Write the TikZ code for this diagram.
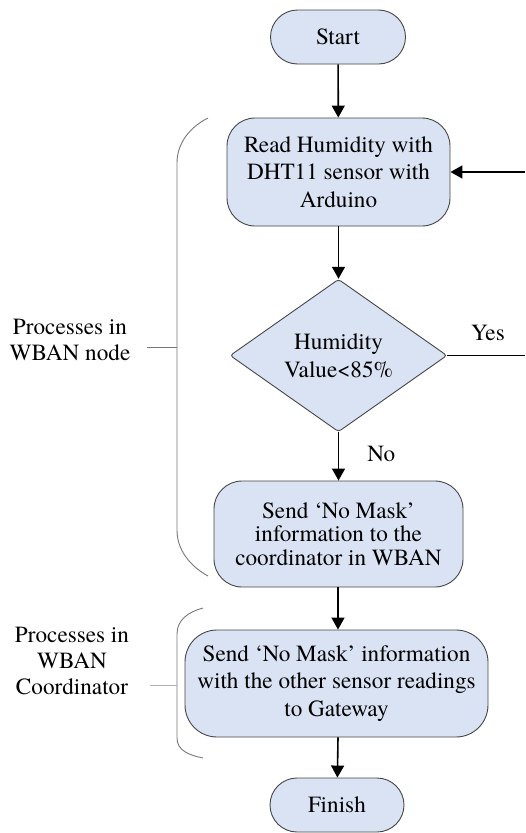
\documentclass[tikz,border=0pt]{standalone}
\usepackage{fontspec}
\setmainfont{TeX Gyre Termes}
\usetikzlibrary{shapes.geometric,arrows.meta}
\definecolor{boxfill}{RGB}{218,227,243}
\definecolor{boxline}{RGB}{70,70,70}
\definecolor{bracecol}{RGB}{120,120,120}
\definecolor{tickcol}{RGB}{175,175,175}
\tikzset{
  txt/.style={font={\fontsize{23.2}{27.5}\selectfont}, align=center, inner sep=0pt},
  procbox/.style={txt, draw=boxline, fill=boxfill, line width=0.9pt},
  decbox/.style={txt, shape=diamond, draw=boxline, fill=boxfill, line width=0.9pt, rounded corners=3pt},
  flow/.style={line width=1.6pt, -{Triangle[width=13pt,length=12pt]}},
  plainflow/.style={line width=1.6pt},
  bracestyle/.style={draw=bracecol, line width=0.9pt},
  labeltxt/.style={font={\fontsize{23.2}{26}\selectfont}, align=center, inner sep=0pt}
}
\begin{document}
\begin{tikzpicture}[x=1pt,y=-1pt]
\useasboundingbox (0,0) rectangle (525,833);

\node[procbox, minimum width=135pt, minimum height=54pt, rounded corners=27pt] (start) at (338,37) {Start};
\node[procbox, minimum width=223pt, minimum height=108pt, rounded corners=28pt] (read) at (338.5,172) {Read Humidity with\\DHT11 sensor with\\Arduino};
\node[decbox, minimum width=217pt, minimum height=149pt] (dec) at (338.5,355.5) {Humidity\\Value<85\%};
\node[procbox, minimum width=249pt, minimum height=106pt, rounded corners=28pt, font={\fontsize{23.2}{23.5}\selectfont}] (send1) at (338.5,534) {Send ‘No Mask’\\information to the\\coordinator in WBAN};
\node[procbox, minimum width=303pt, minimum height=107pt, rounded corners=32pt] (send2) at (336.5,683.5) {Send ‘No Mask’ information\\with the other sensor readings\\to Gateway};
\node[procbox, minimum width=134pt, minimum height=54pt, rounded corners=27pt] (finish) at (337,805) {Finish};

\draw[flow] (start) -- (read);
\draw[flow] (read) -- (dec);
\draw[flow] (dec) -- node[txt, right=28pt, pos=0.45] (nolab) {No} (send1);
\draw[flow] (send1.south -| start) -- (send2.north -| start);
\draw[flow] (send2.south -| start) -- (finish);

\coordinate (yesend) at (525,355.5);
\coordinate (loopin) at (525,172);
\draw[plainflow] (dec.east) -- (yesend);
\node[txt] (yeslab) at (488,333) {Yes};
\draw[flow] (loopin) -- (read.east);

% braces
\draw[bracestyle] (208,118) .. controls (190,127) and (177,143) .. (177,163) -- (177,530) .. controls (177,550) and (190,566) .. (208,576);
\coordinate (b1mid) at (177,347);
\coordinate (b1tick) at (147,347);
\draw[bracestyle] (b1tick) -- (b1mid);
\node[labeltxt] (lab1) at (70,340) {Processes in\\WBAN node};

\draw[bracestyle] (203,608) .. controls (188,612) and (177,620) .. (177,634) -- (177,738) .. controls (177,750) and (188,755) .. (203,758);
\coordinate (b2mid) at (177,685);
\coordinate (b2tick) at (150,685);
\draw[draw=tickcol, line width=0.9pt] (b2tick) -- (b2mid);
\node[labeltxt] (lab2) at (72,661) {Processes in\\WBAN\\Coordinator};
\end{tikzpicture}
\end{document}
